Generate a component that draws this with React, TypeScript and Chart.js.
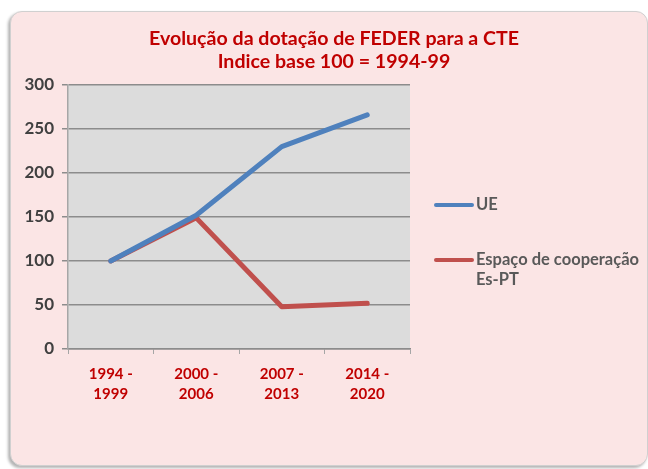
import React, { useEffect, useRef } from "react";
import { Chart, registerables } from "chart.js";

Chart.register(...registerables);

const categories: string[][] = [
  ["1994 -", "1999"],
  ["2000 -", "2006"],
  ["2007 -", "2013"],
  ["2014 -", "2020"],
];
const ueValues = [100, 152, 230, 266];
const esPtValues = [100, 149, 48, 52];
const yMin = 0;
const yMax = 300;
const yStep = 50;
const titleLines = ["Evolução da dotação de FEDER para a CTE", "Indice base 100 = 1994-99"];
const seriesNames: string[][] = [["UE"], ["Espaço de cooperação", "Es-PT"]];
const seriesColors = ["#4F81BD", "#C0504D"];

const FONT = "Lato, 'Open Sans', sans-serif";

const plotBg = {
  id: "plotBg",
  beforeDraw(chart: any) {
    const { ctx, chartArea } = chart;
    ctx.save();
    ctx.fillStyle = "#DCDCDC";
    ctx.fillRect(chartArea.left, chartArea.top, chartArea.right - chartArea.left, chartArea.bottom - chartArea.top);
    ctx.restore();
  },
};

const titlePlugin = {
  id: "customTitle",
  afterDraw(chart: any) {
    const { ctx } = chart;
    ctx.save();
    ctx.fillStyle = "#C00000";
    ctx.font = `bold 19.6px ${FONT}`;
    ctx.textAlign = "center";
    ctx.textBaseline = "middle";
    ctx.fillText(titleLines[0], 334, 39);
    ctx.fillText(titleLines[1], 334, 62);
    ctx.restore();
  },
};

const legendPlugin = {
  id: "customLegend",
  afterDraw(chart: any) {
    const { ctx, chartArea } = chart;
    const x0 = chartArea.right + 24;
    const ys = [205, 260];
    ctx.save();
    ctx.font = `bold 16.5px ${FONT}`;
    ctx.textBaseline = "middle";
    ctx.textAlign = "left";
    chart.data.datasets.forEach((ds: any, i: number) => {
      const y = ys[i];
      ctx.strokeStyle = ds.borderColor;
      ctx.lineWidth = 4;
      ctx.lineCap = "round";
      ctx.beginPath();
      ctx.moveTo(x0 + 2, y);
      ctx.lineTo(x0 + 38, y);
      ctx.stroke();
      ctx.fillStyle = "#595959";
      seriesNames[i].forEach((line, j) => {
        ctx.fillText(line, x0 + 42, y + j * 20);
      });
    });
    ctx.restore();
  },
};

export default function App() {
  const canvasRef = useRef<HTMLCanvasElement | null>(null);

  useEffect(() => {
    if (!canvasRef.current) return;
    const chart = new Chart(canvasRef.current, {
      type: "line",
      data: {
        labels: categories,
        datasets: [
          {
            label: seriesNames[0].join(" "),
            data: ueValues,
            borderColor: seriesColors[0],
            backgroundColor: seriesColors[0],
            borderWidth: 5,
            pointRadius: 0,
            tension: 0,
            borderCapStyle: "round",
            borderJoinStyle: "round",
          },
          {
            label: seriesNames[1].join(" "),
            data: esPtValues,
            borderColor: seriesColors[1],
            backgroundColor: seriesColors[1],
            borderWidth: 5,
            pointRadius: 0,
            tension: 0,
            borderCapStyle: "round",
            borderJoinStyle: "round",
          },
        ],
      },
      options: {
        animation: false,
        responsive: false,
        maintainAspectRatio: false,
        layout: { padding: { left: 0, right: 238, top: 85, bottom: 0 } },
        plugins: {
          legend: { display: false },
          title: { display: false },
          tooltip: { enabled: false },
        },
        scales: {
          x: {
            offset: true,
            afterFit(scale: any) {
              scale.height = 120;
            },
            grid: {
              offset: true,
              drawOnChartArea: false,
              drawTicks: true,
              tickLength: 5,
              color: "#A6A6A6",
            },
            border: { display: true, color: "#8C8C8C", width: 1.5 },
            ticks: {
              color: "#C00000",
              font: { family: FONT, size: 15, weight: "bold", lineHeight: 1.33 },
              padding: 10,
              maxRotation: 0,
              autoSkip: false,
            },
          },
          y: {
            min: yMin,
            max: yMax,
            afterFit(scale: any) {
              scale.width = 68;
            },
            grid: {
              color: "#8C8C8C",
              lineWidth: 1.5,
              drawTicks: true,
              tickLength: 6,
            },
            border: { display: true, color: "#A6A6A6", width: 1.5 },
            ticks: {
              stepSize: yStep,
              color: "#404040",
              font: { family: FONT, size: 17, weight: "bold" },
              padding: 8,
            },
          },
        },
      },
      plugins: [plotBg, titlePlugin, legendPlugin],
    });
    return () => chart.destroy();
  }, []);

  return (
    <div style={{ position: "fixed", left: 0, top: 0, width: 648, height: 469, background: "#FFFFFF", overflow: "hidden" }}>
      <div
        style={{
          position: "absolute",
          left: 10,
          top: 11,
          width: 636,
          height: 453,
          background: "#FBE5E5",
          border: "1px solid #D0D0D0",
          borderRadius: 12,
          boxShadow: "-2px 2px 3px rgba(0,0,0,0.3)",
        }}
      />
      <canvas ref={canvasRef} width={648} height={469} style={{ position: "absolute", left: 0, top: 0 }} />
    </div>
  );
}
